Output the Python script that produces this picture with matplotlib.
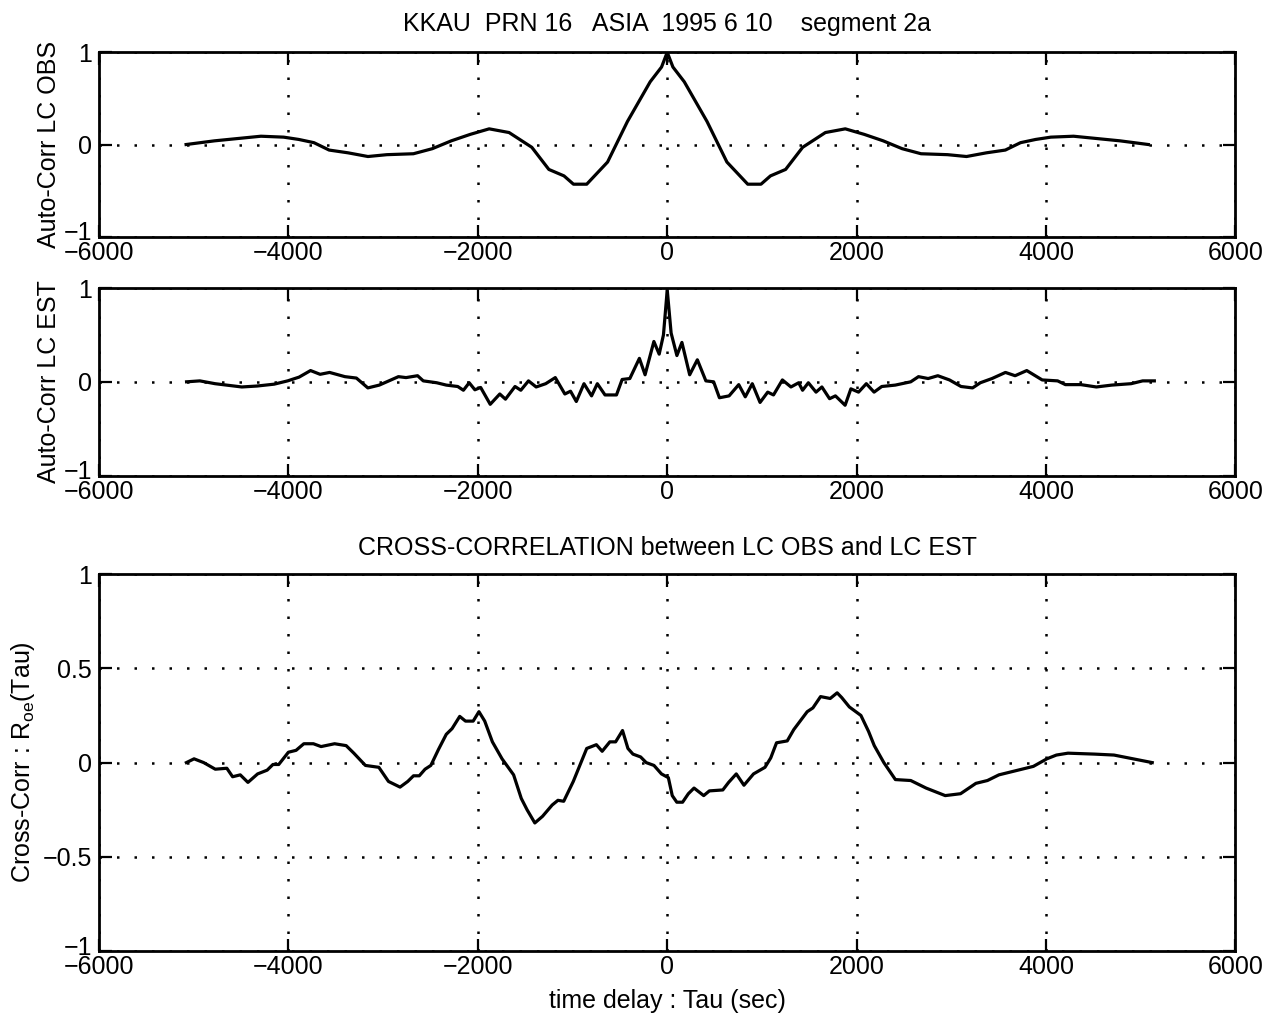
import matplotlib.pyplot as plt
import matplotlib.transforms as mtransforms
import numpy as np

plt.rcParams["font.family"] = ["Liberation Sans", "DejaVu Sans"]

# Auto-correlation of LC OBS
tau_obs = [-5080, -4780, -4290, -4050, -3890, -3730, -3570, -3370, -3160, -2960,
           -2680, -2480, -2280, -2080, -1880, -1670, -1430, -1250, -1090, -990,
           -850, -630, -420, -180, -60, 0,
           60, 180, 420, 630, 850, 990, 1090, 1250, 1430, 1670, 1880, 2080,
           2280, 2480, 2680, 2960, 3160, 3370, 3570, 3730, 3890, 4050, 4290,
           4780, 5080]
acf_obs = [0.0, 0.04, 0.09, 0.08, 0.055, 0.02, -0.06, -0.09, -0.13, -0.11,
           -0.10, -0.045, 0.04, 0.11, 0.17, 0.13, -0.03, -0.27, -0.34, -0.43,
           -0.43, -0.19, 0.25, 0.68, 0.84, 1.0,
           0.84, 0.68, 0.25, -0.19, -0.43, -0.43, -0.34, -0.27, -0.03, 0.13,
           0.17, 0.11, 0.04, -0.045, -0.10, -0.11, -0.13, -0.09, -0.06, 0.02,
           0.055, 0.08, 0.09, 0.04, 0.0]

# Auto-correlation of LC EST
tau_est = [-5075, -4935, -4774, -4492, -4331, -4150, -4008, -3887, -3766, -3665,
           -3565, -3403, -3282, -3161, -3040, -2838, -2758, -2636, -2576, -2434,
           -2333, -2212, -2152, -2091, -2031, -1970, -1869, -1768, -1708, -1607,
           -1546, -1465, -1384, -1283, -1182, -1081, -1021, -960, -879, -799,
           -738, -657, -536, -476, -395, -294, -234, -141, -85, -40, 0,
           41, 102, 155, 237, 318, 408, 490, 551, 653, 755, 824, 898, 980,
           1061, 1122, 1216, 1306, 1388, 1429, 1490, 1571, 1633, 1714, 1776,
           1878, 1939, 2020, 2102, 2184, 2265, 2408, 2571, 2653, 2755, 2857,
           2980, 3102, 3224, 3306, 3429, 3571, 3673, 3796, 3959, 4122, 4204,
           4367, 4531, 4694, 4898, 5020, 5143]
acf_est = [0.0, 0.01, -0.02, -0.055, -0.045, -0.025, 0.01, 0.05, 0.12, 0.08,
           0.10, 0.055, 0.04, -0.065, -0.035, 0.055, 0.045, 0.065, 0.01, -0.01,
           -0.035, -0.05, -0.09, -0.01, -0.085, -0.06, -0.24, -0.13, -0.185, -0.05,
           -0.09, 0.01, -0.055, -0.02, 0.045, -0.13, -0.10, -0.21, -0.02, -0.15,
           -0.02, -0.14, -0.14, 0.025, 0.035, 0.25, 0.075, 0.43, 0.295, 0.50, 0.98,
           0.52, 0.28, 0.42, 0.075, 0.235, 0.01, 0.0, -0.17, -0.15, -0.03, -0.16,
           -0.02, -0.22, -0.11, -0.14, 0.02, -0.055, -0.01, -0.09, -0.01, -0.11,
           -0.055, -0.18, -0.15, -0.25, -0.075, -0.11, -0.02, -0.11, -0.05,
           -0.035, 0.0, 0.055, 0.035, 0.065, 0.02, -0.05, -0.065, -0.01, 0.035,
           0.10, 0.065, 0.12, 0.02, 0.01, -0.03, -0.03, -0.055, -0.035, -0.02,
           0.01, 0.01]

# Cross-correlation between LC OBS and LC EST
tau_cc = [-5077, -4996, -4894, -4772, -4650, -4589, -4508, -4427, -4325, -4224,
          -4163, -4102, -4000, -3919, -3837, -3736, -3655, -3512, -3390, -3309,
          -3187, -3045, -2943, -2821, -2740, -2679, -2618, -2557, -2496, -2415,
          -2333, -2272, -2191, -2130, -2049, -1988, -1927, -1846, -1744, -1622,
          -1541, -1480, -1398, -1317, -1215, -1154, -1093, -992, -850, -748,
          -687, -606, -545, -472, -415, -362, -281, -222, -140, -61, 12,
          53, 101, 162, 223, 283, 385, 445, 587, 648, 729, 810, 911, 1032,
          1093, 1154, 1267, 1336, 1478, 1538, 1619, 1721, 1794, 1842, 1923,
          2045, 2126, 2186, 2287, 2409, 2571, 2733, 2935, 3097, 3259, 3381,
          3502, 3664, 3866, 4008, 4109, 4231, 4514, 4717, 4919, 5121]
ccf = [0.0, 0.02, 0.0, -0.035, -0.03, -0.075, -0.065, -0.105, -0.06, -0.04,
       -0.01, -0.01, 0.055, 0.065, 0.10, 0.10, 0.085, 0.10, 0.09, 0.05,
       -0.015, -0.025, -0.10, -0.13, -0.10, -0.07, -0.07, -0.035, -0.015, 0.07,
       0.15, 0.18, 0.245, 0.22, 0.22, 0.27, 0.22, 0.11, 0.02, -0.065,
       -0.19, -0.25, -0.32, -0.285, -0.225, -0.20, -0.205, -0.10, 0.075, 0.095,
       0.06, 0.11, 0.11, 0.17, 0.075, 0.045, 0.03, 0.0, -0.015, -0.06, -0.08,
       -0.175, -0.21, -0.21, -0.165, -0.135, -0.175, -0.15, -0.145, -0.105,
       -0.06, -0.12, -0.06, -0.025, 0.025, 0.105, 0.115, 0.175, 0.27, 0.29,
       0.35, 0.34, 0.37, 0.345, 0.295, 0.25, 0.165, 0.09, 0.0, -0.09, -0.095,
       -0.135, -0.175, -0.165, -0.11, -0.095, -0.065, -0.045, -0.02, 0.02,
       0.04, 0.05, 0.045, 0.04, 0.02, 0.0]

x_ticks = [-6000, -4000, -2000, 0, 2000, 4000, 6000]
x_labels = ["\u22126000", "\u22124000", "\u22122000", "0", "2000", "4000", "6000"]
fs = 18

fig = plt.figure(figsize=(12.77, 10.25), dpi=100)
ax1 = fig.add_axes([0.0775, 0.769, 0.890, 0.180])
ax2 = fig.add_axes([0.0775, 0.536, 0.890, 0.183])
ax3 = fig.add_axes([0.0775, 0.072, 0.890, 0.368])


def style(ax, yticks, ylabels):
    ax.set_xlim(-6000, 6000)
    ax.set_ylim(-1, 1)
    ax.set_xticks(x_ticks)
    ax.set_xticklabels(x_labels)
    ax.set_yticks(yticks)
    ax.set_yticklabels(ylabels)
    ax.tick_params(direction="in", length=9, width=1.6, top=True, right=True,
                   labelsize=fs)
    ax.tick_params(axis="x", pad=3)
    ax.tick_params(axis="y", pad=5)
    for s in ax.spines.values():
        s.set_linewidth(2.0)
    ax.grid(True, color="black", linestyle=(0, (1, 6)), linewidth=1.8)
    # the bottom "-1" label sits a little higher, as in the original
    lab = ax.get_yticklabels()[0]
    lab.set_transform(lab.get_transform()
                      + mtransforms.ScaledTranslation(0, 6 / 100, fig.dpi_scale_trans))


ax1.plot(tau_obs, acf_obs, color="black", linewidth=2.3)
style(ax1, [-1, 0, 1], ["\u22121", "0", "1"])
ax1.set_ylabel("Auto-Corr LC OBS", fontsize=fs, labelpad=2)
ax1.set_title("KKAU  PRN 16   ASIA  1995 6 10    segment 2a", fontsize=fs, pad=15)

ax2.plot(tau_est, acf_est, color="black", linewidth=2.3)
style(ax2, [-1, 0, 1], ["\u22121", "0", "1"])
ax2.set_ylabel("Auto-Corr LC EST", fontsize=fs, labelpad=2)

ax3.plot(tau_cc, ccf, color="black", linewidth=2.3)
style(ax3, [-1, -0.5, 0, 0.5, 1], ["\u22121", "\u22120.5", "0", "0.5", "1"])
ax3.set_ylabel(r"Cross-Corr : R$_{\mathregular{oe}}$(Tau)", fontsize=fs, labelpad=4)
ax3.set_xlabel("time delay : Tau (sec)", fontsize=fs, labelpad=7)
ax3.set_title("CROSS-CORRELATION between LC OBS and LC EST", fontsize=fs, pad=14)

plt.savefig("out.png", dpi=100)
